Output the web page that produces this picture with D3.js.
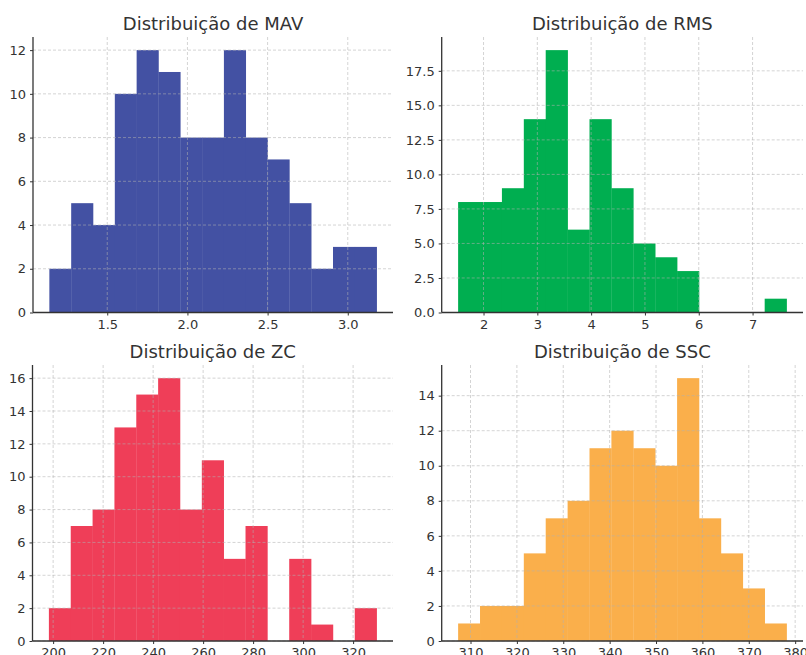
<html>
<head>
<meta charset="utf-8">
<script src="https://d3js.org/d3.v7.min.js"></script>
<style>
  body { margin: 0; background: #fff; }
  text { font-family: "DejaVu Sans", sans-serif; fill: #333; }
</style>
</head>
<body>
<script>
// histogram counts (15 bins each)
var mav_counts = [2, 5, 4, 10, 12, 11, 8, 8, 12, 8, 7, 5, 2, 3, 3];
var rms_counts = [8, 8, 9, 14, 19, 6, 14, 9, 5, 4, 3, 0, 0, 0, 1];
var zc_counts  = [2, 7, 8, 13, 15, 16, 8, 11, 5, 7, 0, 5, 1, 0, 2];
var ssc_counts = [1, 2, 2, 5, 7, 8, 11, 12, 11, 10, 15, 7, 5, 3, 1];

// data range of each histogram (first edge, last edge)
var mav_range = [1.139, 3.18];
var rms_range = [1.528, 7.632];
var zc_range  = [198.3, 329.4];
var ssc_range = [307.33, 378.15];

var mav_xticks = [1.5, 2.0, 2.5, 3.0];
var rms_xticks = [2, 3, 4, 5, 6, 7];
var zc_xticks  = [200, 220, 240, 260, 280, 300, 320];
var ssc_xticks = [310, 320, 330, 340, 350, 360, 370, 380];

var mav_yticks = [0, 2, 4, 6, 8, 10, 12];
var rms_yticks = [0, 2.5, 5, 7.5, 10, 12.5, 15, 17.5];
var zc_yticks  = [0, 2, 4, 6, 8, 10, 12, 14, 16];
var ssc_yticks = [0, 2, 4, 6, 8, 10, 12, 14];

var panels = [
    {title: "Distribuição de MAV", counts: mav_counts, range: mav_range, xt: mav_xticks, xf: ".1f", yt: mav_yticks, yf: "d", color: "#4351a3", x0: 33, x1: 393, y0: 37, y1: 312.5},
    {title: "Distribuição de RMS", counts: rms_counts, range: rms_range, xt: rms_xticks, xf: "d", yt: rms_yticks, yf: ".1f", color: "#00ae50", x0: 441.7, x1: 803, y0: 37, y1: 312.5},
    {title: "Distribuição de ZC", counts: zc_counts, range: zc_range, xt: zc_xticks, xf: "d", yt: zc_yticks, yf: "d", color: "#ef3e58", x0: 32.5, x1: 393, y0: 365, y1: 641},
    {title: "Distribuição de SSC", counts: ssc_counts, range: ssc_range, xt: ssc_xticks, xf: "d", yt: ssc_yticks, yf: "d", color: "#faaf4b", x0: 441.7, x1: 803, y0: 365, y1: 641}
];

var svg = d3.select("body").append("svg")
    .attr("width", 806)
    .attr("height", 655);

panels.forEach(function (p) {
    var n = p.counts.length;
    var w = (p.range[1] - p.range[0]) / n;
    var bins = p.counts.map(function (c, i) {
        return {a: p.range[0] + i * w, b: p.range[0] + (i + 1) * w, c: c};
    });
    var pad = (p.range[1] - p.range[0]) * 0.05;
    var x = d3.scaleLinear().domain([p.range[0] - pad, p.range[1] + pad]).range([p.x0, p.x1]);
    var y = d3.scaleLinear().domain([0, d3.max(p.counts) * 1.05]).range([p.y1, p.y0]);

    var g = svg.append("g");

    g.selectAll("rect.bar")
        .data(bins.filter(function (d) { return d.c > 0; }))
        .enter()
        .append("rect")
        .attr("class", "bar")
        .attr("x", function (d) { return x(d.a); })
        .attr("width", function (d) { return x(d.b) - x(d.a) + 0.3; })
        .attr("y", function (d) { return y(d.c); })
        .attr("height", function (d) { return y(0) - y(d.c); })
        .style("fill", p.color);

    // grid on top of bars, like the original
    g.selectAll("line.gx")
        .data(p.xt)
        .enter()
        .append("line")
        .attr("x1", function (d) { return x(d); })
        .attr("x2", function (d) { return x(d); })
        .attr("y1", p.y0)
        .attr("y2", p.y1)
        .style("stroke", "#b0b0b0")
        .style("stroke-opacity", 0.55)
        .style("stroke-dasharray", "3,2");
    g.selectAll("line.gy")
        .data(p.yt)
        .enter()
        .append("line")
        .attr("x1", p.x0)
        .attr("x2", p.x1)
        .attr("y1", function (d) { return y(d); })
        .attr("y2", function (d) { return y(d); })
        .style("stroke", "#b0b0b0")
        .style("stroke-opacity", 0.55)
        .style("stroke-dasharray", "3,2");

    var xa = g.append("g")
        .attr("transform", "translate(0," + p.y1 + ")")
        .call(d3.axisBottom(x).tickValues(p.xt).tickFormat(d3.format(p.xf)).tickSizeInner(3).tickSizeOuter(0).tickPadding(4));
    var ya = g.append("g")
        .attr("transform", "translate(" + p.x0 + ",0)")
        .call(d3.axisLeft(y).tickValues(p.yt).tickFormat(d3.format(p.yf)).tickSizeInner(3).tickSizeOuter(0).tickPadding(4));

    [xa, ya].forEach(function (a) {
        a.selectAll("text").style("font-size", "13px").style("fill", "#333");
        a.selectAll("line").style("stroke", "#333");
        a.select(".domain").style("stroke", "#333").style("stroke-width", 1.3);
    });
    // matplotlib-style: axis lines span full plotting area
    xa.select(".domain").attr("d", "M" + p.x0 + ",0H" + p.x1);
    ya.select(".domain").attr("d", "M0," + p.y1 + "V" + p.y0);

    g.append("text")
        .attr("x", (p.x0 + p.x1) / 2)
        .attr("y", p.y0 - 7)
        .attr("text-anchor", "middle")
        .style("font-size", "18px")
        .text(p.title);
});
</script>
</body>
</html>
